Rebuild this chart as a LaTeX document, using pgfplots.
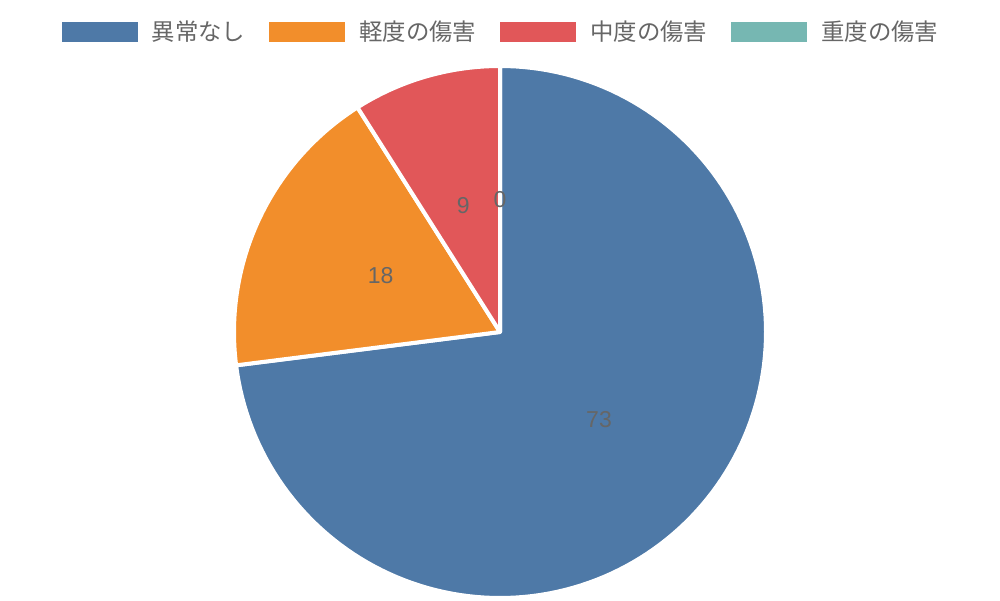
\documentclass[border=0pt]{standalone}
\usepackage{pgfplots}
\pgfplotsset{compat=1.18}
\usepackage{fontspec}
\setmainfont{Liberation Sans}
\newfontfamily\cjk{Noto Sans CJK JP}

\definecolor{cA}{HTML}{4E79A7}
\definecolor{cB}{HTML}{F28E2B}
\definecolor{cC}{HTML}{E15759}
\definecolor{cD}{HTML}{76B7B2}
\definecolor{txt}{HTML}{666666}

% slice values (percent of total)
\def\vA{73}
\def\vB{18}
\def\vC{9}
\def\vD{0}
% centre and radius in pixel units
\def\cx{500}
\def\cy{268}
\def\rr{266}

\begin{document}
\begin{tikzpicture}
\begin{axis}[
    scale only axis,
    width=500pt, height=300pt,
    xmin=0, xmax=1000, ymin=0, ymax=600,
    hide axis, clip=false,
    legend columns=4,
    legend image code/.code={\fill[#1, draw=none] (0pt,-5pt) rectangle (38pt,5pt);},
    legend style={
        at={(axis cs:500,568)}, anchor=center,
        draw=none, fill=none,
        font=\cjk\fontsize{11.7}{14}\selectfont,
        text=txt,
        nodes={inner sep=0pt},
        /tikz/every odd column/.append style={column sep=7pt},
        /tikz/every even column/.append style={column sep=12pt},
    },
]
\path (rel axis cs:0,0) rectangle (rel axis cs:1,1);

\addplot[fill=cA, draw=white, line width=2pt, line join=round, domain=0:3.6*\vA, samples=150, variable=\t, forget plot]
    ({\cx+\rr*sin(\t)},{\cy+\rr*cos(\t)}) -- (axis cs:\cx,\cy) -- cycle;
\addplot[fill=cB, draw=white, line width=2pt, line join=round, domain=3.6*\vA:3.6*(\vA+\vB), samples=60, variable=\t, forget plot]
    ({\cx+\rr*sin(\t)},{\cy+\rr*cos(\t)}) -- (axis cs:\cx,\cy) -- cycle;
\addplot[fill=cC, draw=white, line width=2pt, line join=round, domain=3.6*(\vA+\vB):3.6*(\vA+\vB+\vC), samples=40, variable=\t, forget plot]
    ({\cx+\rr*sin(\t)},{\cy+\rr*cos(\t)}) -- (axis cs:\cx,\cy) -- cycle;

\addlegendimage{fill=cA}\addlegendentry{異常なし}
\addlegendimage{fill=cB}\addlegendentry{軽度の傷害}
\addlegendimage{fill=cC}\addlegendentry{中度の傷害}
\addlegendimage{fill=cD}\addlegendentry{重度の傷害}

\pgfmathsetmacro{\aA}{1.8*\vA}
\pgfmathsetmacro{\aB}{3.6*\vA+1.8*\vB}
\pgfmathsetmacro{\aC}{3.6*(\vA+\vB)+1.8*\vC}
\pgfmathsetmacro{\aD}{3.6*(\vA+\vB+\vC)+1.8*\vD}
\begin{scope}[every node/.style={text=txt, font=\fontsize{11.5}{13}\selectfont, inner sep=0pt}]
\node at (axis cs:{\cx+132*sin(\aA)},{\cy+132*cos(\aA)}) {\vA};
\node at (axis cs:{\cx+132*sin(\aB)},{\cy+132*cos(\aB)}) {\vB};
\node at (axis cs:{\cx+132*sin(\aC)},{\cy+132*cos(\aC)}) {\vC};
\node at (axis cs:{\cx+132*sin(\aD)},{\cy+132*cos(\aD)}) {\vD};
\end{scope}
\end{axis}
\end{tikzpicture}
\end{document}
